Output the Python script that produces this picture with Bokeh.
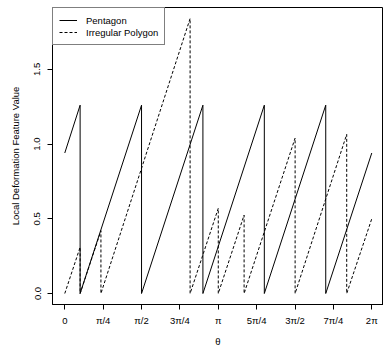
import math
from bokeh.plotting import figure
from bokeh.models import FixedTicker, Legend, LegendItem, Range1d
from bokeh.embed import file_html
from bokeh.resources import INLINE

# ---- data ----
theta_pentagon = [0.0, 0.314, 0.314, 1.571, 1.571, 2.827, 2.827, 4.084, 4.084, 5.341, 5.341, 6.283]
value_pentagon = [0.94, 1.26, 0.0, 1.26, 0.0, 1.26, 0.0, 1.26, 0.0, 1.26, 0.0, 0.94]

theta_irregular = [0.0, 0.314, 0.314, 0.74, 0.74, 2.565, 2.565, 3.1416, 3.1416, 3.67, 3.67, 4.714, 4.714, 5.77, 5.77, 6.283]
value_irregular = [0.0, 0.31, 0.0, 0.42, 0.0, 1.84, 0.0, 0.57, 0.0, 0.525, 0.0, 1.04, 0.0, 1.065, 0.0, 0.50]

x_ticks = [0.0, math.pi / 4, math.pi / 2, 3 * math.pi / 4, math.pi,
           5 * math.pi / 4, 3 * math.pi / 2, 7 * math.pi / 4, 2 * math.pi]
x_tick_labels = ["0", "π/4", "π/2", "3π/4", "π", "5π/4", "3π/2", "7π/4", "2π"]
y_ticks = [0.0, 0.5, 1.0, 1.5]
y_tick_labels = ["0.0", "0.5", "1.0", "1.5"]
x_title = "θ"
y_title = "Local Deformation Feature Value"

FONT = "Liberation Sans"
FS = "9.5px"

p = figure(width=383, height=349, output_backend="svg", toolbar_location=None,
           x_range=Range1d(-0.2513, 6.523), y_range=Range1d(-0.0736, 1.9136),
           min_border_left=52, min_border_right=0, min_border_top=7, min_border_bottom=44)
p.grid.visible = False
p.outline_line_color = "black"
p.outline_line_width = 1
p.background_fill_color = "white"
p.border_fill_color = "white"

r1 = p.line(theta_pentagon, value_pentagon, line_color="black", line_width=1)
r2 = p.line(theta_irregular, value_irregular, line_color="black", line_width=1, line_dash="3 2")

xa = p.xaxis[0]
xa.ticker = FixedTicker(ticks=x_ticks)
xa.major_label_overrides = dict(zip(x_ticks, x_tick_labels))
xa.axis_label = x_title
ya = p.yaxis[0]
ya.ticker = FixedTicker(ticks=y_ticks)
ya.major_label_overrides = dict(zip(y_ticks, y_tick_labels))
ya.major_label_orientation = "vertical"
ya.axis_label = y_title

for ax in (xa, ya):
    ax.axis_line_color = "black"
    ax.major_tick_line_color = "black"
    ax.major_tick_out = 5
    ax.major_tick_in = 0
    ax.minor_tick_line_color = None
    ax.major_label_text_font = FONT
    ax.major_label_text_font_size = FS
    ax.major_label_text_color = "black"
    ax.axis_label_text_font = FONT
    ax.axis_label_text_font_size = FS
    ax.axis_label_text_font_style = "normal"
    ax.axis_label_text_color = "black"

xa.major_label_standoff = 5
xa.axis_label_standoff = 7
ya.major_label_standoff = 7
ya.axis_label_standoff = 11

legend = Legend(items=[LegendItem(label="Pentagon", renderers=[r1]),
                       LegendItem(label="Irregular Polygon", renderers=[r2])],
                location="top_left", margin=0, padding=6, spacing=0,
                glyph_width=18, glyph_height=12, label_height=12, label_standoff=9,
                border_line_color="black", border_line_width=1,
                background_fill_color="white", background_fill_alpha=1.0,
                label_text_font=FONT, label_text_font_size=FS, label_text_color="black")
p.add_layout(legend)

open("out.html", "w").write(file_html(p, INLINE))
